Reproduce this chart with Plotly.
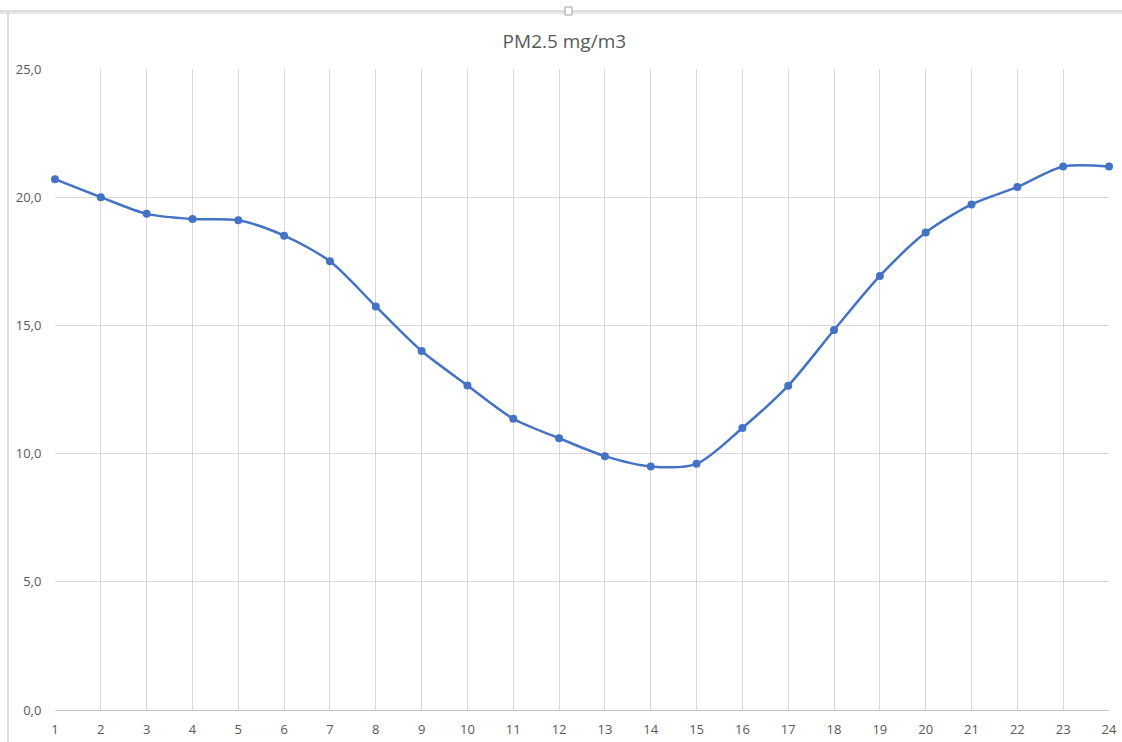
import plotly.graph_objects as go

hours = list(range(1, 25))
pm25 = [20.7, 20.0, 19.35, 19.15, 19.1, 18.5, 17.5, 15.74, 14.0, 12.66, 11.36, 10.6,
        9.9, 9.5, 9.6, 11.0, 12.65, 14.82, 16.93, 18.62, 19.72, 20.4, 21.2, 21.2]
y_ticks = [0, 5, 10, 15, 20, 25]
title_text = "PM2.5 mg/m3"

fig = go.Figure()
fig.add_trace(go.Scatter(
    x=hours, y=pm25, mode="lines+markers",
    line=dict(color="#4472C4", width=2.5, shape="spline", smoothing=0.8),
    marker=dict(color="#4472C4", size=8),
    cliponaxis=False,
    showlegend=False,
))

W = 1054
fig.update_layout(
    width=1122, height=742,
    margin=dict(l=55, r=13, t=69, b=32, autoexpand=False),
    paper_bgcolor="white", plot_bgcolor="white",
    separators=",.",
    font=dict(family="Open Sans, Liberation Sans, sans-serif", color="#595959", size=12),
    title=dict(text=title_text, x=0.503, xanchor="center", y=1 - 41 / 742, yanchor="middle",
               font=dict(size=19, color="#595959")),
    xaxis=dict(range=[1, 24], tickvals=hours, ticktext=[str(h) for h in hours],
               automargin=False,
               showgrid=True, gridcolor="#d9d9d9", gridwidth=1, zeroline=False,
               showline=False, ticks="outside", ticklen=7, tickcolor="rgba(0,0,0,0)",
               tickfont=dict(size=13, color="#595959")),
    yaxis=dict(range=[0, 25], tickvals=y_ticks, tickformat=".1f",
               automargin=False,
               showgrid=True, gridcolor="#d9d9d9", gridwidth=1, zeroline=True,
               zerolinecolor="#c8c8c8", zerolinewidth=1, showline=False,
               ticks="outside", ticklen=10, tickcolor="rgba(0,0,0,0)",
               tickfont=dict(size=13, color="#595959")),
    shapes=[
        dict(type="line", xref="paper", yref="paper", x0=-55 / W, x1=1.03,
             y0=1 + (69 - 11) / 641, y1=1 + (69 - 11) / 641, line=dict(color="#bdbdbd", width=1)),
        dict(type="line", xref="paper", yref="paper", x0=-55 / W, x1=1.03,
             y0=1 + (69 - 13) / 641, y1=1 + (69 - 13) / 641, line=dict(color="#d0d0d0", width=1)),
        dict(type="line", xref="paper", yref="paper", x0=-47 / W, x1=-47 / W,
             y0=-0.06, y1=1 + (69 - 13) / 641, line=dict(color="#bdbdbd", width=1)),
        dict(type="rect", xref="paper", yref="paper", x0=(565 - 55) / W, x1=(572 - 55) / W,
             y0=1 + (69 - 15) / 641, y1=1 + (69 - 7) / 641,
             line=dict(color="#a0a0a0", width=1), fillcolor="white"),
    ],
)

fig.write_html("out.html")
